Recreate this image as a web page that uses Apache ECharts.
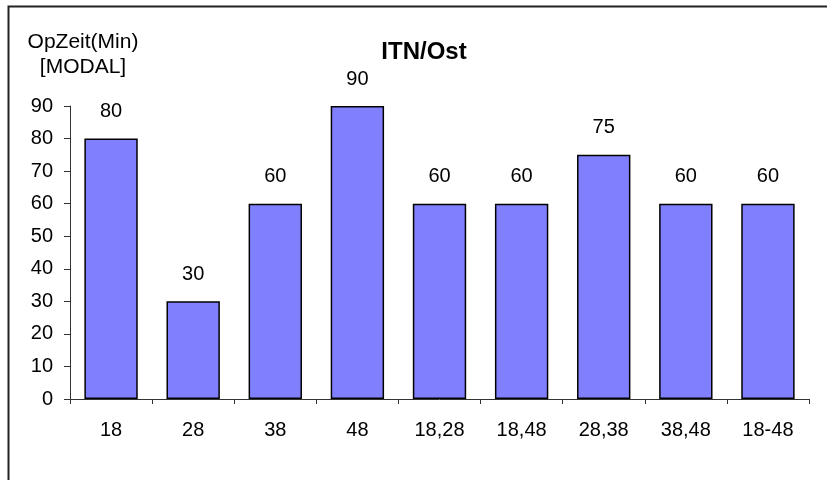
<!DOCTYPE html>
<html>
<head>
<meta charset="utf-8">
<script src="https://cdn.jsdelivr.net/npm/echarts@6/dist/echarts.min.js"></script>
<style>
  html, body { margin: 0; padding: 0; background: #fff; }
  #chart { width: 827px; height: 480px; }
</style>
</head>
<body>
<div id="chart"></div>
<script>
// Operating time (minutes, modal value) per station group
const categories = ['18', '28', '38', '48', '18,28', '18,48', '28,38', '38,48', '18-48'];
const opZeit = [80, 30, 60, 90, 60, 60, 75, 60, 60];
const yTicks = { min: 0, max: 90, interval: 10 };

const FONT = 'Liberation Sans, Arial, sans-serif';
const chart = echarts.init(document.getElementById('chart'), null, { renderer: 'canvas' });

chart.setOption({
  backgroundColor: '#ffffff',
  animation: false,
  graphic: [
    {
      type: 'rect',
      shape: { x: 8.5, y: 6.5, width: 900, height: 600 },
      style: { fill: 'none', stroke: '#222', lineWidth: 2 },
      silent: true
    },
    {
      // chart title
      type: 'text',
      x: 424,
      y: 52,
      style: {
        text: 'ITN/Ost',
        align: 'center',
        verticalAlign: 'middle',
        fontFamily: FONT,
        fontSize: 24,
        fontWeight: 'bold',
        fill: '#000'
      }
    },
    {
      // value axis name
      type: 'text',
      x: 83,
      y: 30,
      style: {
        text: 'OpZeit(Min)\n[MODAL]',
        align: 'center',
        verticalAlign: 'top',
        fontFamily: FONT,
        fontSize: 21,
        lineHeight: 25,
        fill: '#000'
      }
    }
  ],
  grid: { left: 70, right: 18, top: 106, bottom: 81, containLabel: false },
  xAxis: {
    type: 'category',
    data: categories,
    axisLine: { lineStyle: { color: '#333', width: 1 } },
    axisTick: { show: true, length: 5, alignWithLabel: false, lineStyle: { color: '#333' } },
    axisLabel: { fontFamily: FONT, fontSize: 20, color: '#000', margin: 21 }
  },
  yAxis: {
    type: 'value',
    min: yTicks.min,
    max: yTicks.max,
    interval: yTicks.interval,
    splitLine: { show: false },
    axisLine: { show: true, lineStyle: { color: '#333', width: 1 } },
    axisTick: { show: true, length: 6, lineStyle: { color: '#333' } },
    axisLabel: { fontFamily: FONT, fontSize: 20, color: '#000', margin: 17 }
  },
  series: [{
    type: 'bar',
    data: opZeit,
    barCategoryGap: '35%',
    itemStyle: { color: '#8080ff', borderColor: '#000', borderWidth: 1.5 },
    label: {
      show: true,
      position: 'top',
      distance: 17,
      fontFamily: FONT,
      fontSize: 20,
      color: '#000'
    }
  }]
});
</script>
</body>
</html>
